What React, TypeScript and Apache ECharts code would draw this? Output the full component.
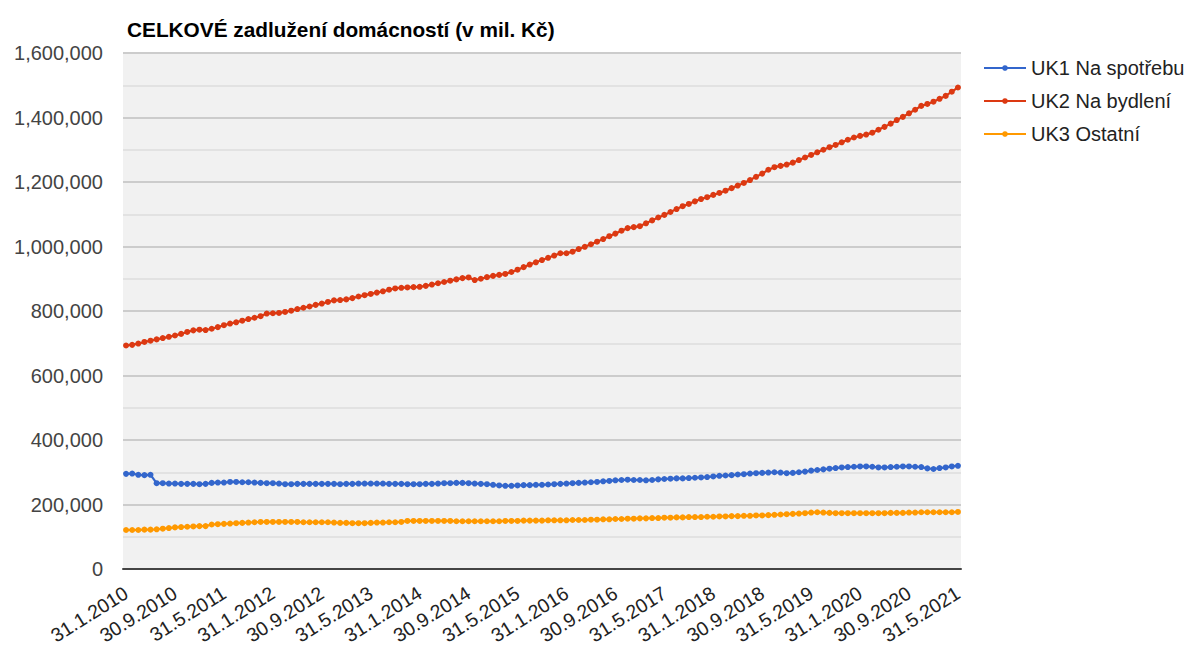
import React, { useEffect, useRef } from "react";
import * as echarts from "echarts";

// Month-end dates from 31.1.2010 to 31.5.2021 (137 monthly observations)
const START_YEAR = 2010;
const MONTH_COUNT = 137;
const categories: string[] = Array.from({ length: MONTH_COUNT }, (_, i) => {
  const y = START_YEAR + Math.floor(i / 12);
  const m = (i % 12) + 1;
  const lastDay = new Date(y, m, 0).getDate();
  return `${lastDay}.${m}.${y}`;
});

const seriesNames = ["UK1 Na spotřebu", "UK2 Na bydlení", "UK3 Ostatní"];
const seriesColors = ["#3366cc", "#dc3912", "#ff9900"];

// values in thousands of mil. Kč
const uk1: number[] = [
  295, 296, 292, 291, 292, 266, 266, 265, 265, 264, 264, 264, 263, 264, 267, 268, 268, 270, 270, 269,
  269, 268, 267, 266, 266, 265, 263, 263, 264, 264, 264, 264, 264, 264, 264, 263, 264, 264, 265, 265,
  265, 265, 265, 264, 264, 264, 263, 263, 263, 264, 264, 265, 266, 266, 267, 267, 266, 265, 264, 263,
  261, 259, 258, 258, 259, 260, 260, 261, 261, 262, 263, 264, 265, 266, 267, 268, 269, 270, 272, 273,
  275, 276, 277, 276, 276, 275, 276, 278, 279, 280, 281, 281, 282, 283, 284, 285, 287, 289, 290, 291,
  293, 294, 296, 297, 298, 299, 300, 299, 297, 298, 300, 302, 305, 307, 309, 311, 313, 315, 316, 317,
  318, 318, 317, 315, 315, 316, 317, 318, 318, 317, 316, 312, 310, 313, 315, 318, 320,
];
const uk2: number[] = [
  693, 695, 699, 704, 708, 712, 716, 720, 724, 729, 735, 740, 742, 741, 745, 750, 756, 761, 765, 770,
  775, 779, 784, 792, 793, 794, 797, 801, 806, 810, 814, 819, 823, 828, 833, 834, 836, 840, 845, 849,
  853, 857, 861, 866, 870, 872, 873, 874, 875, 878, 882, 886, 890, 894, 898, 902, 904, 896, 900, 905,
  909, 912, 915, 921, 928, 936, 944, 951, 958, 965, 972, 979, 979, 984, 992, 999, 1007, 1015, 1023, 1032,
  1040, 1049, 1057, 1060, 1063, 1072, 1081, 1090, 1098, 1107, 1116, 1125, 1132, 1140, 1147, 1153, 1160, 1166, 1173, 1181,
  1189, 1197, 1206, 1216, 1226, 1238, 1246, 1250, 1254, 1260, 1268, 1276, 1284, 1292, 1300, 1308, 1315, 1323, 1331, 1338,
  1343, 1347, 1353, 1362, 1371, 1381, 1392, 1402, 1413, 1424, 1436, 1442, 1449, 1458, 1467, 1480, 1493,
];
const uk3: number[] = [
  121, 121, 121, 122, 122, 123, 125, 127, 129, 130, 131, 132, 133, 133, 138, 139, 140, 141, 142, 143,
  144, 145, 146, 146, 146, 146, 146, 146, 146, 145, 145, 145, 145, 145, 144, 143, 143, 142, 142, 142,
  143, 144, 144, 145, 145, 146, 149, 149, 149, 149, 149, 149, 149, 149, 148, 148, 148, 148, 148, 148,
  148, 148, 149, 149, 149, 150, 150, 150, 150, 151, 151, 151, 151, 152, 152, 152, 153, 153, 154, 154,
  155, 155, 156, 156, 157, 157, 158, 158, 159, 159, 160, 160, 161, 161, 161, 162, 162, 163, 163, 164,
  164, 165, 165, 166, 166, 167, 168, 169, 170, 171, 172, 173, 175, 176, 175, 174, 173, 173, 173, 173,
  173, 173, 173, 173, 173, 174, 174, 174, 175, 175, 176, 176, 176, 176, 176, 176, 177,
];
const seriesData = [uk1, uk2, uk3];

const Y_MAX = 1600000;
const Y_STEP = 200000;

const FONT = "Arial, 'Liberation Sans', sans-serif";

export default function App() {
  const ref = useRef<HTMLDivElement>(null);
  useEffect(() => {
    if (!ref.current) return;
    const chart = echarts.init(ref.current, undefined, { renderer: "svg" });
    chart.setOption({
      animation: false,
      backgroundColor: "#ffffff",
      title: {
        text: "CELKOVÉ zadlužení domácností (v mil. Kč)",
        left: 122,
        top: 14,
        textStyle: { fontFamily: FONT, fontSize: 20.8, fontWeight: "bold", color: "#000" },
      },
      legend: {
        orient: "vertical",
        left: 978,
        top: 53,
        itemWidth: 42,
        itemHeight: 7,
        itemGap: 13,
        data: seriesNames,
        textStyle: { fontFamily: FONT, fontSize: 20, color: "#222", lineHeight: 20 },
      },
      grid: {
        left: 123,
        right: 233,
        top: 53,
        bottom: 82,
        show: true,
        backgroundColor: "#f1f1f1",
        borderWidth: 0,
      },
      xAxis: {
        type: "category",
        data: categories,
        boundaryGap: true,
        axisLine: { show: true, lineStyle: { color: "#444", width: 2 } },
        axisTick: { show: false },
        axisLabel: {
          interval: 7,
          rotate: 32,
          margin: 22,
          fontFamily: FONT,
          fontSize: 19.5,
          color: "#222",
        },
        splitLine: { show: false },
      },
      yAxis: {
        type: "value",
        min: 0,
        max: Y_MAX,
        interval: Y_STEP,
        axisLine: { show: false },
        axisTick: { show: false },
        axisLabel: {
          margin: 20,
          fontFamily: FONT,
          fontSize: 20,
          color: "#444",
          formatter: (v: number) => v.toLocaleString("en-US"),
        },
        splitLine: { show: true, lineStyle: { color: "#cccccc", width: 2 } },
        minorTick: { show: false, splitNumber: 2 },
        minorSplitLine: { show: true, lineStyle: { color: "#e2e2e2", width: 2 } },
      },
      series: seriesData.map((d, k) => ({
        name: seriesNames[k],
        type: "line",
        data: d.map((v) => v * 1000),
        color: seriesColors[k],
        symbol: "circle",
        symbolSize: 6,
        showSymbol: true,
        showAllSymbol: true,
        lineStyle: { width: 2.2, color: seriesColors[k] },
        itemStyle: { color: seriesColors[k] },
      })),
    });
    return () => chart.dispose();
  }, []);
  return (
    <div
      ref={ref}
      style={{ position: "fixed", left: 0, top: 0, width: 1194, height: 651 }}
    />
  );
}
